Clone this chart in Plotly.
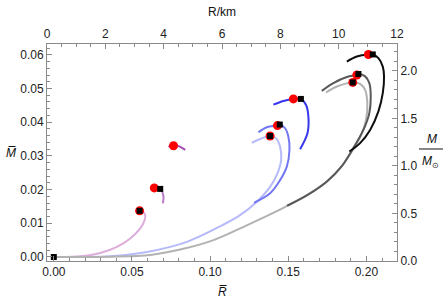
import plotly.graph_objects as go

# ---------------- data (R̄, M̄) ----------------
pink_R = [0.0, 0.0042, 0.0169, 0.0297, 0.0404, 0.0489, 0.0553, 0.0581, 0.0585, 0.0574, 0.0549]
pink_M = [0.0, 0.0, 0.0002, 0.0012, 0.0030, 0.0055, 0.0085, 0.0109, 0.0124, 0.0133, 0.0137]

purp1_R = [0.0681, 0.0694, 0.0702, 0.0698]
purp1_M = [0.0202, 0.0193, 0.0179, 0.0159]

purp2_R = [0.0734, 0.0756, 0.0770, 0.0798, 0.0820, 0.0841]
purp2_M = [0.0327, 0.0332, 0.0332, 0.0329, 0.0324, 0.0318]

lblue_R = [0.0, 0.0180, 0.0361, 0.0596, 0.0852, 0.1077, 0.1192, 0.1299, 0.1384, 0.1431,
           0.1455, 0.1448, 0.1423, 0.1384, 0.1320, 0.1267]
lblue_M = [0.0, 0.0, 0.0002, 0.0015, 0.0045, 0.0094, 0.0124, 0.0164, 0.0208, 0.0248,
           0.0288, 0.0327, 0.0352, 0.0359, 0.0350, 0.0339]

mblue_R = [0.1282, 0.1384, 0.1448, 0.1491, 0.1508, 0.1501, 0.1480, 0.1446, 0.1431, 0.1363, 0.1309]
mblue_M = [0.0161, 0.0189, 0.0228, 0.0268, 0.0318, 0.0357, 0.0382, 0.0393, 0.0390, 0.0385, 0.0370]

bblue_R = [0.1576, 0.1623, 0.1629, 0.1614, 0.1581, 0.1533, 0.1469, 0.1405]
bblue_M = [0.0320, 0.0367, 0.0417, 0.0451, 0.0469, 0.0469, 0.0463, 0.0452]

lgrey_R = [0.0, 0.0180, 0.0361, 0.0617, 0.0809, 0.1022, 0.1235, 0.1427, 0.1493, 0.1620, 0.1740,
           0.1830, 0.1896, 0.1960, 0.1998, 0.2006, 0.1992, 0.1960, 0.1913, 0.1811, 0.1742]
lgrey_M = [0.0, 0.0, 0.0001, 0.0006, 0.0022, 0.0050, 0.0094, 0.0136, 0.0152, 0.0184, 0.0222,
           0.0262, 0.0305, 0.0355, 0.0407, 0.0457, 0.0496, 0.0514, 0.0518, 0.0506, 0.0488]

dgrey_R = [0.1493, 0.1630, 0.1750, 0.1840, 0.1917, 0.1981, 0.2019, 0.2028, 0.2019, 0.1992,
           0.1949, 0.1939, 0.1875, 0.1789, 0.1715]
dgrey_M = [0.0152, 0.0186, 0.0225, 0.0268, 0.0324, 0.0377, 0.0427, 0.0476, 0.0516, 0.0536,
           0.0543, 0.0540, 0.0534, 0.0516, 0.0493]

black_R = [0.1891, 0.1960, 0.2024, 0.2077, 0.2105, 0.2113, 0.2105, 0.2077, 0.2041, 0.2013,
           0.1939, 0.1875]
black_M = [0.0313, 0.0338, 0.0377, 0.0432, 0.0486, 0.0536, 0.0565, 0.0590, 0.0601, 0.0601,
           0.0595, 0.0580]

red_R = [0.0549, 0.0643, 0.0766, 0.1384, 0.1431, 0.1533, 0.1913, 0.1939, 0.2013]
red_M = [0.0137, 0.0205, 0.0330, 0.0359, 0.0390, 0.0469, 0.0518, 0.0540, 0.0601]

sq_R = [0.0, 0.0549, 0.0681, 0.1384, 0.1446, 0.1581, 0.1913, 0.1949, 0.2041]
sq_M = [0.0, 0.0137, 0.0202, 0.0359, 0.0393, 0.0469, 0.0518, 0.0543, 0.0601]

x_ticks = [0.0, 0.05, 0.10, 0.15, 0.20]
y_ticks = [0.0, 0.01, 0.02, 0.03, 0.04, 0.05, 0.06]
km_ticks = [0, 2, 4, 6, 8, 10, 12]
msun_ticks = [0.0, 0.5, 1.0, 1.5, 2.0]

curves = [
    (pink_R, pink_M, "rgb(220,172,218)"),
    (lblue_R, lblue_M, "rgb(182,186,250)"),
    (lgrey_R, lgrey_M, "rgb(178,178,178)"),
    (mblue_R, mblue_M, "rgb(115,120,242)"),
    (dgrey_R, dgrey_M, "rgb(88,88,88)"),
    (bblue_R, bblue_M, "rgb(55,55,235)"),
    (black_R, black_M, "rgb(15,15,15)"),
    (purp1_R, purp1_M, "rgb(185,125,200)"),
    (purp2_R, purp2_M, "rgb(165,75,178)"),
]

fig = go.Figure()
for R, M, c in curves:
    fig.add_trace(go.Scatter(x=R, y=M, mode="lines", line=dict(color=c, width=2, shape="spline", smoothing=1.0),
                             showlegend=False, hoverinfo="skip"))

fig.add_trace(go.Scatter(x=red_R, y=red_M, mode="markers",
                         marker=dict(color="#ff0000", size=9, line=dict(width=0)), showlegend=False))
fig.add_trace(go.Scatter(x=sq_R, y=sq_M, mode="markers",
                         marker=dict(color="#000000", symbol="square", size=6, line=dict(width=0)), showlegend=False))
# dummy trace for secondary axes
fig.add_trace(go.Scatter(x=[0], y=[0], xaxis="x2", yaxis="y2", mode="markers",
                         marker=dict(opacity=0), showlegend=False, hoverinfo="skip"))

font = dict(family="Liberation Sans, Arial, sans-serif", size=12, color="#222")
axcol = "#8a8a8a"
common = dict(showgrid=False, zeroline=False, showline=True, linecolor=axcol, linewidth=1,
              ticks="inside", ticklen=5, tickcolor=axcol, tickwidth=1, tickfont=font)

L, Rm, T, B = 46.7, 47.0, 44.3, 40.3
W, H = 444, 301

fig.update_layout(
    width=W, height=H, margin=dict(l=L, r=Rm, t=T, b=B, autoexpand=False),
    paper_bgcolor="white", plot_bgcolor="white",
    xaxis=dict(range=[-0.00435, 0.2196], tickvals=x_ticks, ticktext=[f"{v:.2f}" for v in x_ticks],
               minor=dict(ticks="inside", ticklen=3, tickcolor=axcol, dtick=0.01, tick0=0),
               side="bottom", **common),
    yaxis=dict(range=[-0.00119, 0.0632], tickvals=y_ticks, ticktext=[f"{v:.2f}" for v in y_ticks],
               minor=dict(ticks="inside", ticklen=3, tickcolor=axcol, dtick=0.002, tick0=0),
               side="left", **common),
    xaxis2=dict(range=[0, 12], tickvals=km_ticks, ticktext=[str(v) for v in km_ticks],
                minor=dict(ticks="inside", ticklen=3, tickcolor=axcol, dtick=0.5, tick0=0),
                overlaying="x", side="top", **common),
    yaxis2=dict(range=[0, 2.281], tickvals=msun_ticks, ticktext=[f"{v:.1f}" for v in msun_ticks],
                minor=dict(ticks="inside", ticklen=3, tickcolor=axcol, dtick=0.1, tick0=0),
                overlaying="y", side="right", **common),
)

pw, ph = W - L - Rm, H - T - B
def px(x):
    return (x - L) / pw
def py(y):
    return (H - B - y) / ph

lab = dict(family="Liberation Sans, Arial, sans-serif", size=12, color="#111")
ann = [
    dict(x=px(222), y=py(12), text="R/km"),
    dict(x=px(222), y=py(292), text="<i>R\u0305</i>"),
    dict(x=px(11), y=py(153), text="<i>M\u0305</i>"),
    dict(x=px(432), y=py(139), text="<i>M</i>"),
    dict(x=px(431), y=py(162), text="<i>M</i><sub>\u2299</sub>"),
]
for a in ann:
    fig.add_annotation(xref="paper", yref="paper", showarrow=False, font=lab,
                       xanchor="center", yanchor="middle", **a)
fig.add_shape(type="line", xref="paper", yref="paper", x0=px(419), x1=px(443), y0=py(149), y1=py(149),
              line=dict(color="#111", width=1))

fig.write_html("out.html", config={"displayModeBar": False},
               post_script="document.body.style.margin='0';document.body.style.overflow='hidden';")
